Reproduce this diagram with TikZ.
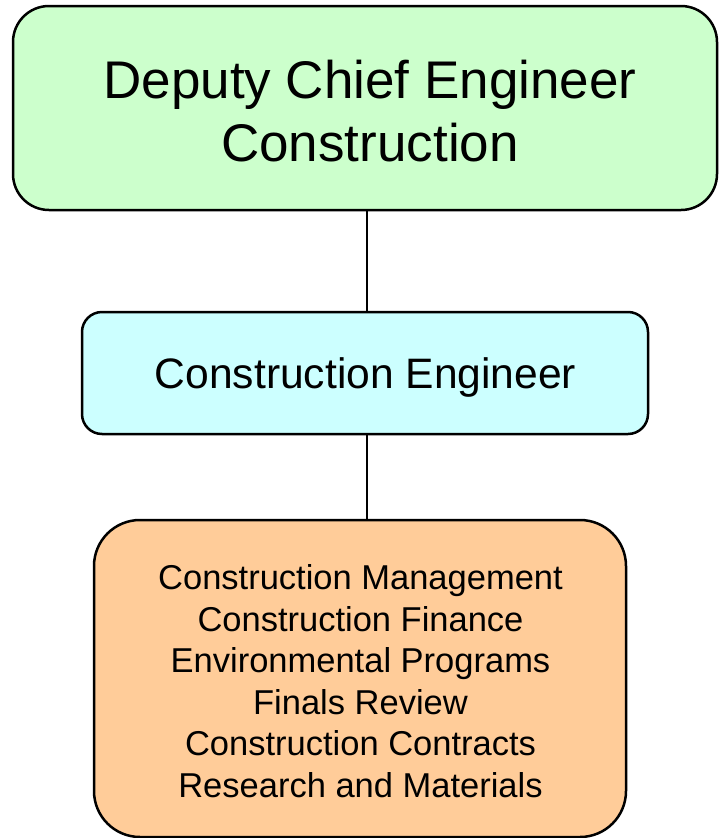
\documentclass[tikz,border=0pt]{standalone}
\usepackage{fontspec}
\setmainfont{Liberation Sans}
\definecolor{topgreen}{HTML}{CCFFCC}
\definecolor{midcyan}{HTML}{CCFFFF}
\definecolor{lowpeach}{HTML}{FFCC99}
\begin{document}
\begin{tikzpicture}[x=1pt,y=-1pt,
  orgbox/.style={draw=black,line width=2.5pt,inner sep=0pt,anchor=center},
  boxtext/.style={inner sep=0pt,align=center,anchor=center},
  link/.style={draw=black,line width=2pt}]
\useasboundingbox (0,0) rectangle (719,838);
\node[orgbox,fill=topgreen,rounded corners=36pt,minimum width=704pt,minimum height=204pt] (top) at (365,108) {};
\node[boxtext,font=\fontsize{53}{63}\selectfont] (toptext) at (370,111) {Deputy Chief Engineer\\Construction};
\node[orgbox,fill=midcyan,rounded corners=20pt,minimum width=566pt,minimum height=122pt] (mid) at (365,373) {};
\node[boxtext,font=\fontsize{42.6}{50}\selectfont] (midtext) at (365.5,377) {Construction Engineer};
\node[orgbox,fill=lowpeach,rounded corners=46pt,minimum width=532pt,minimum height=317pt] (low) at (360,678.5) {};
\node[boxtext,font=\fontsize{34.5}{41.5}\selectfont] (lowtext) at (360.5,681) {Construction Management\\Construction Finance\\Environmental Programs\\Finals Review\\Construction Contracts\\Research and Materials};
\draw[link] ([xshift=2pt]top.south) -- ([xshift=2pt]mid.north);
\draw[link] ([xshift=2pt]mid.south) -- ([xshift=7pt]low.north);
\end{tikzpicture}
\end{document}
